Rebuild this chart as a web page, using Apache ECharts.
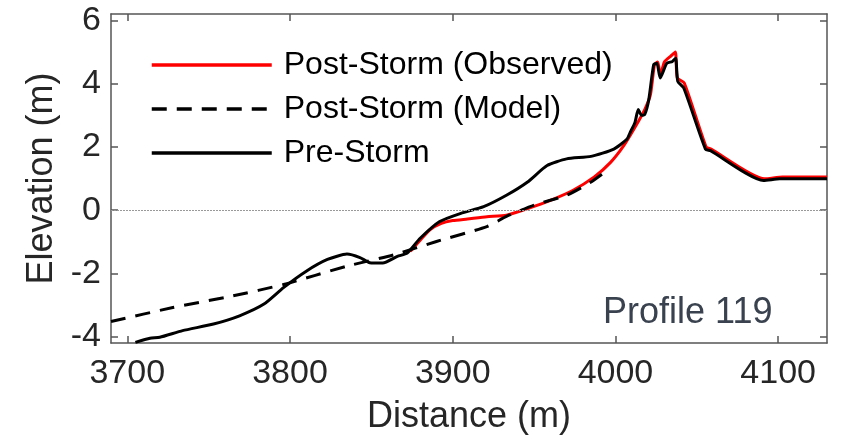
<!DOCTYPE html>
<html><head><meta charset="utf-8">
<script src="https://cdn.jsdelivr.net/npm/echarts@6/dist/echarts.min.js"></script>
<style>html,body{margin:0;padding:0;background:#fff}#c{width:851px;height:440px}</style>
</head><body><div id="c"></div>
<script>
const xTicks = [3700, 3800, 3900, 4000, 4100];
const yTicks = [-4, -2, 0, 2, 4, 6];
const seriesNames = ['Post-Storm (Observed)', 'Post-Storm (Model)', 'Pre-Storm'];
const annotation = 'Profile 119';

const preDist = [3705,3714,3720,3734,3753,3769,3784,3796,3810,3823,3835,3843,3849,3857,3866,3872,3880,3892,3905,3919,3933,3946,3958,3970,3985,3999,4007,4009,4012,4014,4016,4018,4020.5,4023.5,4025.5,4027.5,4031.5,4035,4037,4038.3,4042,4055.3,4058.4,4091,4101,4130];
const preElev = [-4.18,-4.05,-4.02,-3.81,-3.6,-3.34,-2.97,-2.45,-1.93,-1.56,-1.39,-1.5,-1.66,-1.67,-1.46,-1.36,-0.89,-0.36,-0.1,0.11,0.47,0.89,1.41,1.62,1.70,1.93,2.24,2.45,2.77,3.18,3.0,3.03,3.5,4.6,4.64,4.18,4.64,4.7,4.8,4.07,3.86,1.93,1.88,0.94,0.99,0.99];

const obsDist = [3874,3880,3886,3893,3900,3909,3921,3933,3946,3960,3974,3987,3997,4005,4012,4018,4021.5,4024,4026,4027.6,4030,4034,4036.8,4038,4042.3,4055.7,4058.8,4091.6,4102.7,4130];
const obsElev = [-1.3,-0.95,-0.62,-0.42,-0.33,-0.28,-0.21,-0.16,0.05,0.31,0.63,1.05,1.51,2.03,2.62,3.18,3.65,4.6,4.68,4.25,4.68,4.87,5.0,4.18,4.02,2.0,1.93,0.99,1.05,1.05];

const modDist = [3690,3728,3765,3796,3835,3864,3890,3921,3933,3950,3970,3985,3996];
const modElev = [-3.52,-3.08,-2.71,-2.35,-1.77,-1.41,-0.99,-0.52,-0.2,0.16,0.47,0.89,1.3];

const zip = (a, b) => a.map((v, i) => [v, b[i]]);
const FONT = '"Liberation Sans", Arial, sans-serif';
const AXC = '#555';
const TXT = '#262626';

const chart = echarts.init(document.getElementById('c'), null, {renderer: 'canvas'});
const baseX = {
  type: 'value', min: 3690, max: 4130,
  axisLine: {show: true, onZero: false, lineStyle: {color: AXC, width: 1.5}},
  axisTick: {show: true, inside: true, length: 7, lineStyle: {color: AXC, width: 1.5}, customValues: xTicks},
  splitLine: {show: false}
};
const baseY = {
  type: 'value', min: -4.2, max: 6.2,
  axisLine: {show: true, onZero: false, lineStyle: {color: AXC, width: 1.5}},
  axisTick: {show: true, inside: true, length: 7, lineStyle: {color: AXC, width: 1.5}, customValues: yTicks},
  splitLine: {show: false}
};
const lineCommon = {type: 'line', showSymbol: false, symbol: 'none', smooth: 0.2};
chart.setOption({
  animation: false,
  grid: {left: 111, top: 14, right: 24, bottom: 95, containLabel: false},
  xAxis: [
    Object.assign({}, baseX, {position: 'bottom',
      name: 'Distance (m)', nameLocation: 'middle', nameGap: 56,
      nameTextStyle: {fontFamily: FONT, fontSize: 36, color: TXT},
      axisLabel: {show: true, customValues: xTicks, formatter: v => String(v), margin: 14, fontFamily: FONT, fontSize: 34, color: TXT}}),
    Object.assign({}, baseX, {position: 'top', axisLabel: {show: false}})
  ],
  yAxis: [
    Object.assign({}, baseY, {position: 'left',
      name: 'Elevation (m)', nameLocation: 'middle', nameGap: 51, nameRotate: 90,
      nameTextStyle: {fontFamily: FONT, fontSize: 36, color: TXT},
      axisLabel: {show: true, customValues: yTicks, formatter: v => String(v), margin: 10, fontFamily: FONT, fontSize: 34, color: TXT}}),
    Object.assign({}, baseY, {position: 'right', axisLabel: {show: false}})
  ],
  legend: {
    show: true, orient: 'vertical', left: 150, top: 47, padding: 0,
    itemWidth: 120, itemHeight: 14, itemGap: 8,
    itemStyle: {opacity: 0},
    lineStyle: {width: 3.5},
    textStyle: {fontFamily: FONT, fontSize: 32, color: '#000', lineHeight: 36, padding: [0, 0, 0, 7]},
    data: seriesNames
  },
  graphic: [{
    type: 'text', left: 603, top: 295,
    style: {text: annotation, fontFamily: FONT, fontSize: 36, fill: '#39424e'}
  }],
  series: [
    Object.assign({}, lineCommon, {name: seriesNames[0], data: zip(obsDist, obsElev),
     lineStyle: {color: '#ff0000', width: 3}, itemStyle: {color: '#ff0000'}, z: 2,
     markLine: {silent: true, symbol: 'none', label: {show: false},
       lineStyle: {color: '#999', width: 1.2, type: [2, 1]}, data: [{yAxis: 0}]}}),
    Object.assign({}, lineCommon, {name: seriesNames[1], data: zip(modDist, modElev),
     lineStyle: {color: '#000', width: 3, type: [15, 10]}, itemStyle: {color: '#000'}, z: 3}),
    Object.assign({}, lineCommon, {name: seriesNames[2], data: zip(preDist, preElev),
     lineStyle: {color: '#000', width: 3}, itemStyle: {color: '#000'}, z: 4})
  ]
});
</script></body></html>
